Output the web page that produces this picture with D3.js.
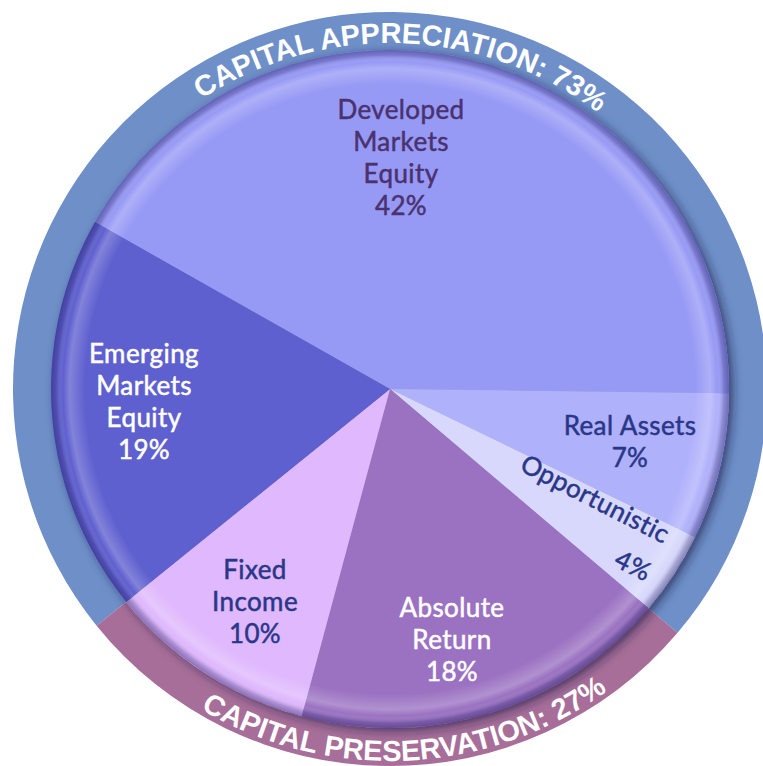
<!DOCTYPE html>
<html>
<head>
<meta charset="utf-8">
<script src="https://cdn.jsdelivr.net/npm/d3@7"></script>
<style>
  body { margin: 0; background: #fff; }
  svg { display: block; }
</style>
</head>
<body>
<div id="chart"></div>
<script>
// data
const categories = ["Developed Markets Equity", "Real Assets", "Opportunistic", "Absolute Return", "Fixed Income", "Emerging Markets Equity"];
const labelLines = [["Developed", "Markets", "Equity"], ["Real Assets"], ["Opportunistic"], ["Absolute", "Return"], ["Fixed", "Income"], ["Emerging", "Markets", "Equity"]];
const shares = [42, 7, 4, 18, 10, 19];
const groupOf = ["appreciation", "appreciation", "appreciation", "preservation", "preservation", "appreciation"];
const groupKeys = ["appreciation", "preservation"];
const groupNames = ["CAPITAL APPRECIATION", "CAPITAL PRESERVATION"];
const groupShares = [73, 27];

const width = 763, height = 766;
const cx = 390, cy = 389;
const pieR = 339, ringInner = 328, ringOuter = 377;

const sliceColors = {
    "Developed Markets Equity": "#979af5",
    "Real Assets": "#b0b1fb",
    "Opportunistic": "#d7d8fc",
    "Absolute Return": "#9b72c2",
    "Fixed Income": "#dfb8fd",
    "Emerging Markets Equity": "#5e61cf"
};
const textColors = {
    "Developed Markets Equity": "#4a3270",
    "Real Assets": "#2a3788",
    "Opportunistic": "#2a3788",
    "Absolute Return": "#ffffff",
    "Fixed Income": "#2a3788",
    "Emerging Markets Equity": "#ffffff"
};
const ringColors = { appreciation: "#6e8fc7", preservation: "#a66e98" };

// where each label sits (first baseline, relative to centre)
const labelAt = {
    "Developed Markets Equity": { x: 11, y: -270 },
    "Real Assets": { x: 240, y: 46 },
    "Opportunistic": { x: 201, y: 118, rot: 27, pct: [64, 42] },
    "Absolute Return": { x: 62, y: 228 },
    "Fixed Income": { x: -135, y: 190 },
    "Emerging Markets Equity": { x: -246, y: -26 }
};
const lineH = 32;

let svg = d3.select("#chart").append("svg")
    .attr("width", width)
    .attr("height", height);

let defs = svg.append("defs");
let shadow = defs.append("filter").attr("id", "shadow")
    .attr("x", "-10%").attr("y", "-10%").attr("width", "120%").attr("height", "120%");
shadow.append("feDropShadow")
    .attr("dx", 4).attr("dy", 3)
    .attr("stdDeviation", 5)
    .attr("flood-color", "#1c1a4a")
    .attr("flood-opacity", 0.65);

let bevel = defs.append("radialGradient").attr("id", "bevel");
[[0, "#ffffff", 0], [0.9, "#ffffff", 0], [0.945, "#ffffff", 0.22], [0.965, "#ffffff", 0],
 [0.985, "#201a60", 0.25], [1, "#201a60", 0.45]].forEach((s) => {
    bevel.append("stop").attr("offset", s[0]).attr("stop-color", s[1]).attr("stop-opacity", s[2]);
});

let g = svg.append("g").attr("transform", "translate(" + cx + "," + cy + ")");

const toRad = Math.PI / 180;
const pie = d3.pie().sort(null)
    .startAngle(-60.5 * toRad)
    .endAngle((360 - 60.5) * toRad);
const slices = pie(shares).map((d, i) => {
    d.name = categories[i];
    d.group = groupOf[i];
    return d;
});

// merge neighbouring slices of the same group into ring segments
let segs = [];
slices.forEach((s) => {
    let last = segs[segs.length - 1];
    if (last && last.group === s.group) { last.endAngle = s.endAngle; }
    else { segs.push({ group: s.group, startAngle: s.startAngle, endAngle: s.endAngle }); }
});
if (segs.length > 1 && segs[0].group === segs[segs.length - 1].group) {
    let tail = segs.pop();
    segs[0].startAngle = tail.startAngle - 2 * Math.PI;
}

const ringArc = d3.arc().innerRadius(ringInner).outerRadius(ringOuter);
g.selectAll(".ring")
    .data(segs)
    .enter().append("path")
        .attr("class", "ring")
        .attr("d", ringArc)
        .attr("fill", (d) => ringColors[d.group]);

// ring captions on curved paths
const pt = (r, a) => [r * Math.sin(a), -r * Math.cos(a)];
segs.forEach((s, i) => {
    const k = groupKeys.indexOf(s.group);
    let mid = (s.startAngle + s.endAngle) / 2;
    const bottom = Math.cos(mid) < 0;
    mid += (bottom ? -3.3 : 1.3) * toRad; // captions sit a little right of the segment middle
    const r = bottom ? 372 : 346;
    let p0, p1, sweep;
    if (bottom) { p0 = pt(r, mid + Math.PI / 2); p1 = pt(r, mid - Math.PI / 2); sweep = 0; }
    else { p0 = pt(r, mid - Math.PI / 2); p1 = pt(r, mid + Math.PI / 2); sweep = 1; }
    defs.append("path")
        .attr("id", "ringpath" + i)
        .attr("d", "M" + p0[0] + "," + p0[1] + " A" + r + "," + r + " 0 0 " + sweep + " " + p1[0] + "," + p1[1]);
    g.append("text")
        .attr("font-family", "'Liberation Sans', Arial, sans-serif")
        .attr("font-weight", "bold")
        .attr("font-size", 29)
        .attr("fill", "#ffffff")
        .append("textPath")
            .attr("href", "#ringpath" + i)
            .attr("startOffset", "50%")
            .attr("text-anchor", "middle")
            .text(groupNames[k] + ": " + groupShares[k] + "%");
});

// pie
const arc = d3.arc().innerRadius(0).outerRadius(pieR);
let pieGroup = g.append("g").attr("filter", "url(#shadow)");
pieGroup.selectAll(".slice")
    .data(slices)
    .enter().append("path")
        .attr("class", "slice")
        .attr("d", arc)
        .attr("fill", (d) => sliceColors[d.name]);
g.append("circle").attr("r", pieR).attr("fill", "url(#bevel)");

// slice labels
slices.forEach((s, i) => {
    const pos = labelAt[s.name];
    let lg = g.append("g")
        .attr("transform", "translate(" + pos.x + "," + pos.y + ")" + (pos.rot ? " rotate(" + pos.rot + ")" : ""))
        .attr("font-family", "Lato, 'Open Sans', sans-serif")
        .attr("font-size", 26)
        .attr("letter-spacing", 0.4)
        .attr("fill", textColors[s.name])
        .attr("stroke", textColors[s.name])
        .attr("stroke-width", 0.5)
        .attr("text-anchor", "middle");
    labelLines[i].forEach((line, j) => {
        lg.append("text").attr("y", j * lineH).text(line);
    });
    let pctPos = pos.pct || [0, labelLines[i].length * lineH];
    lg.append("text").attr("x", pctPos[0]).attr("y", pctPos[1]).text(shares[i] + "%");
});
</script>
</body>
</html>
